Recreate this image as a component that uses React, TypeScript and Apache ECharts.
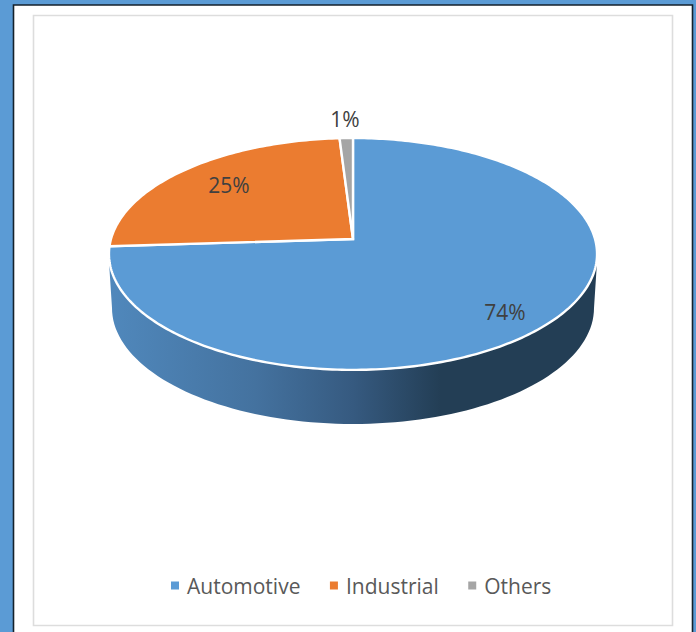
import React, { useEffect, useRef } from "react";
import * as echarts from "echarts";

const categories = ["Automotive", "Industrial", "Others"];
const shares = [74, 25, 1];
const sliceColors = ["#5B9BD5", "#EB7C30", "#A5A5A5"];

const FONT = '"Open Sans", sans-serif';
const WIDTH = 696;
const HEIGHT = 632;

// Tilted disc: a unit circle projected with a mild perspective, so the
// hub sits above the centre of the visible ellipse.
const HUB_X = 353;
const HUB_Y = 239;
const RADIUS_X = 242;
const RADIUS_Y = 114;
const PERSPECTIVE = 0.129;

const project = (fraction: number, r = 1): number[] => {
  const angle = fraction * Math.PI * 2;
  const u = Math.sin(angle) * r;
  const v = -Math.cos(angle) * r;
  const w = 1 - PERSPECTIVE * v;
  return [HUB_X + (RADIUS_X * u) / w, HUB_Y + (RADIUS_Y * v) / w];
};

const labelAnchors = [
  [505, 312],
  [229, 185],
  [345, 119],
];

const total = shares.reduce((a, b) => a + b, 0);

const sliceRenderer = (index: number) => (_params: any, api: any) => {
  const value = api.value(0) as number;
  const before = shares.slice(0, index).reduce((a, b) => a + b, 0);
  const start = before / total;
  const end = (before + value) / total;
  const steps = Math.max(4, Math.round((end - start) * 360));
  const points: number[][] = [[HUB_X, HUB_Y]];
  for (let i = 0; i <= steps; i++) {
    points.push(project(start + ((end - start) * i) / steps));
  }
  return {
    type: "group",
    children: [
      {
        type: "polygon",
        shape: { points },
        style: { fill: sliceColors[index], stroke: "#ffffff", lineWidth: 2.4, lineJoin: "miter" },
      },
      {
        type: "text",
        z2: 10,
        x: labelAnchors[index][0],
        y: labelAnchors[index][1],
        style: {
          text: `${value}%`,
          fill: "#404040",
          font: `21px ${FONT}`,
          align: "center",
          verticalAlign: "middle",
        },
      },
    ],
  };
};

// Side wall of the disc, lying below the top face.
const WALL_CENTER_Y = 308;
const WALL_RX = 241;
const WALL_RY = 116;
const WALL_TOP_Y = 262;

const wallRenderer = () => {
  const points: number[][] = [[597, WALL_TOP_Y]];
  for (let deg = 0; deg <= 180; deg += 2) {
    const a = (deg * Math.PI) / 180;
    points.push([HUB_X + WALL_RX * Math.cos(a), WALL_CENTER_Y + WALL_RY * Math.sin(a)]);
  }
  points.push([109, WALL_TOP_Y]);
  return {
    type: "polygon",
    shape: { points },
    style: {
      fill: new echarts.graphic.LinearGradient(0, 0, 1, 0, [
        { offset: 0, color: "#5088BC" },
        { offset: 0.3, color: "#44729F" },
        { offset: 0.5, color: "#365A80" },
        { offset: 0.68, color: "#233E55" },
        { offset: 1, color: "#233E55" },
      ]),
    },
  };
};

export default function App() {
  const ref = useRef<HTMLDivElement>(null);

  useEffect(() => {
    if (!ref.current) return;
    const chart = echarts.init(ref.current, undefined, { renderer: "svg" });
    chart.setOption({
      animation: false,
      backgroundColor: "#5B9BD5",
      legend: {
        data: categories,
        left: 166,
        top: 570,
        itemWidth: 8,
        itemHeight: 8,
        itemGap: 29.5,
        icon: "rect",
        selectedMode: false,
        textStyle: {
          fontFamily: FONT,
          fontSize: 21,
          color: "#595959",
          padding: [0, 0, 0, 3],
        },
      },
      graphic: [
        {
          type: "rect",
          z: 0,
          shape: { x: 13.5, y: 5, width: 679, height: 640 },
          style: { fill: "#ffffff", stroke: "#14212B", lineWidth: 1.6 },
        },
        {
          type: "rect",
          z: 0,
          shape: { x: 33.5, y: 15.5, width: 639, height: 610 },
          style: { fill: "#ffffff", stroke: "#DDDDDD", lineWidth: 1.6 },
        },
      ],
      series: [
        {
          type: "custom",
          name: "Side",
          coordinateSystem: "none",
          z: 1,
          silent: true,
          renderItem: wallRenderer,
          data: [[0]],
        },
        ...categories.map((name, i) => ({
          type: "custom",
          name,
          coordinateSystem: "none",
          z: 2,
          itemStyle: { color: sliceColors[i] },
          renderItem: sliceRenderer(i),
          data: [[shares[i]]],
        })),
      ],
    });
    return () => chart.dispose();
  }, []);

  return (
    <div
      ref={ref}
      style={{ position: "fixed", left: 0, top: 0, width: WIDTH, height: HEIGHT }}
    />
  );
}
